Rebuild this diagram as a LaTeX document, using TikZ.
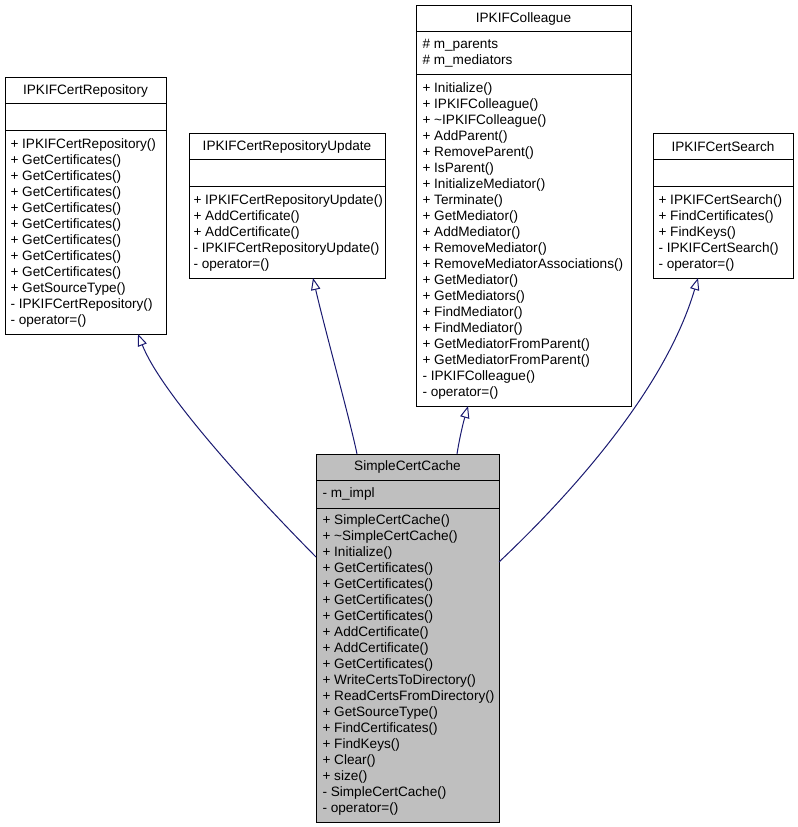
\documentclass[tikz,border=0pt]{standalone}
\usepackage{fontspec}
\setmainfont{Liberation Sans}
\usetikzlibrary{arrows.meta,calc}

\tikzset{every picture/.style={line width=0.75pt}}

\begin{document}
\begin{tikzpicture}[x=0.75pt,y=0.75pt,yscale=-1,xscale=1,
  classbox/.style={draw, fill=white, anchor=north west, inner sep=0pt, outer sep=0pt},
  txt/.style={inner sep=0.75pt, font=\fontsize{10.2}{12}\selectfont},
  members/.style={txt, anchor=west, align=left},
  genline/.style={color={rgb, 255:red, 25; green, 25; blue, 112 }, -{Triangle[open, length=9pt, width=7pt]}}]
%set diagram left start at 0, and has height of 827
\useasboundingbox (0,0) rectangle (797,827);

%Shape: Rectangle [IPKIFCertRepository]
\node [classbox, minimum width=120.75pt, minimum height=192pt] (repo) at (5,78) {};
\draw    (5,104) -- (166,104) ;
\draw    (5,131) -- (166,131) ;
%Shape: Rectangle [IPKIFCertRepositoryUpdate]
\node [classbox, minimum width=147pt, minimum height=108pt] (update) at (189,134) {};
\draw    (189,160) -- (385,160) ;
\draw    (189,187) -- (385,187) ;
%Shape: Rectangle [IPKIFColleague]
\node [classbox, minimum width=161.25pt, minimum height=300pt] (colleague) at (416,6) {};
\draw    (416,32) -- (631,32) ;
\draw    (416,75) -- (631,75) ;
%Shape: Rectangle [IPKIFCertSearch]
\node [classbox, minimum width=105pt, minimum height=108pt] (search) at (653,134) {};
\draw    (653,160) -- (793,160) ;
\draw    (653,187) -- (793,187) ;
%Shape: Rectangle [SimpleCertCache]
\node [classbox, fill={rgb, 255:red, 191; green, 191; blue, 191 }, minimum width=137.25pt, minimum height=276pt] (cache) at (316,454) {};
\draw    (316,480) -- (499,480) ;
\draw    (316,508) -- (499,508) ;

%Curve Lines [cache to repo]
\draw [genline]   ($(cache.north west)+(0,103)$) .. controls (240,480) and (160,390) .. ($(repo.south west)+(133,0)$) ;
%Curve Lines [cache to update]
\draw [genline]   ($(cache.north west)+(41,0)$) .. controls (350,420) and (325,330) .. ($(update.south west)+(124,0)$) ;
%Curve Lines [cache to colleague]
\draw [genline]   ($(cache.north west)+(141,0)$) .. controls (460,435) and (464,420) .. ($(colleague.south west)+(52,0)$) ;
%Curve Lines [cache to search]
\draw [genline]   ($(cache.north east)+(0,108)$) .. controls (570,495) and (665,390) .. ($(search.south west)+(45,0)$) ;

% Text Node
\node [txt] (repo-name) at (85.5,91) {IPKIFCertRepository};
% Text Node
\node [members] (repo-ops) at (9,232.5) {+ IPKIFCertRepository()\\+ GetCertificates()\\+ GetCertificates()\\+ GetCertificates()\\+ GetCertificates()\\+ GetCertificates()\\+ GetCertificates()\\+ GetCertificates()\\+ GetCertificates()\\+ GetSourceType()\\- IPKIFCertRepository()\\- operator=()};
% Text Node
\node [txt] (update-name) at (287,147) {IPKIFCertRepositoryUpdate};
% Text Node
\node [members] (update-ops) at (192,232.5) {+ IPKIFCertRepositoryUpdate()\\+ AddCertificate()\\+ AddCertificate()\\- IPKIFCertRepositoryUpdate()\\- operator=()};
% Text Node
\node [txt] (colleague-name) at (523.5,19) {IPKIFColleague};
% Text Node
\node [members] (colleague-attr) at (421,53.5) {\# m\_parents\\\# m\_mediators};
% Text Node
\node [members] (colleague-ops) at (421,240.5) {+ Initialize()\\+ IPKIFColleague()\\+ \textasciitilde IPKIFColleague()\\+ AddParent()\\+ RemoveParent()\\+ IsParent()\\+ InitializeMediator()\\+ Terminate()\\+ GetMediator()\\+ AddMediator()\\+ RemoveMediator()\\+ RemoveMediatorAssociations()\\+ GetMediator()\\+ GetMediators()\\+ FindMediator()\\+ FindMediator()\\+ GetMediatorFromParent()\\+ GetMediatorFromParent()\\- IPKIFColleague()\\- operator=()};
% Text Node
\node [txt] (search-name) at (723,147) {IPKIFCertSearch};
% Text Node
\node [members] (search-ops) at (657,232.5) {+ IPKIFCertSearch()\\+ FindCertificates()\\+ FindKeys()\\- IPKIFCertSearch()\\- operator=()};
% Text Node
\node [txt] (cache-name) at (407.5,467) {SimpleCertCache};
% Text Node
\node [members] (cache-attr) at (321,494) {- m\_impl};
% Text Node
\node [members] (cache-ops) at (321,665) {+ SimpleCertCache()\\+ \textasciitilde SimpleCertCache()\\+ Initialize()\\+ GetCertificates()\\+ GetCertificates()\\+ GetCertificates()\\+ GetCertificates()\\+ AddCertificate()\\+ AddCertificate()\\+ GetCertificates()\\+ WriteCertsToDirectory()\\+ ReadCertsFromDirectory()\\+ GetSourceType()\\+ FindCertificates()\\+ FindKeys()\\+ Clear()\\+ size()\\- SimpleCertCache()\\- operator=()};

\end{tikzpicture}
\end{document}
